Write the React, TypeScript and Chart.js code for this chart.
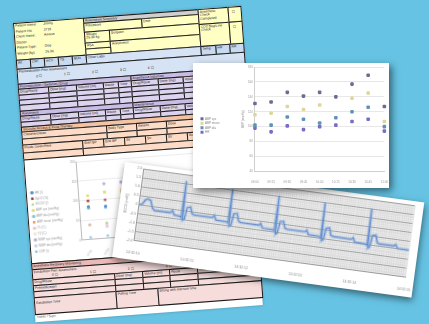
import React, { useEffect, useRef } from "react";
import { Chart, registerables } from "chart.js";

Chart.register(...registerables);
Chart.defaults.font.family = "'Liberation Sans', Arial, sans-serif";

// ---------- Trend card (top right) ----------
const trendLabels = ["09:00", "09:15", "09:30", "09:45", "10:00", "10:15", "10:30", "10:45", "11:00"];
const trendNames = ["ABP sys", "ABP mean", "ABP dia", "HR"];
const abpSys = [131, 133, 146, 141, 146, 140, 157, 169, 127];
const abpMean = [116, 118, 127, 123, 129, null, 138, 145, 107];
const abpDia = [102, 102, 113, 110, 105, 112, 120, 126, 100];
const heartRate = [98, 93, 101, 96, 100, 102, 107, 110, 94];

// ---------- ECG strip ----------
const ecgTime = [
  0.0, 0.05, 0.1, 0.15, 0.2, 0.25, 0.29, 0.58, 0.62, 0.66, 0.77, 0.79, 0.8, 0.82, 0.85, 0.88, 0.94, 0.98, 1.02,
  1.36, 1.39, 1.43, 1.63, 1.65, 1.66, 1.68, 1.71, 1.74, 1.8, 1.84, 1.88,
  2.22, 2.25, 2.29, 2.49, 2.51, 2.52, 2.54, 2.57, 2.6, 2.66, 2.7, 2.74,
  3.07, 3.1, 3.14, 3.34, 3.36, 3.37, 3.39, 3.42, 3.45, 3.51, 3.55, 3.59,
  3.93, 3.96, 4.0, 4.2, 4.22, 4.23, 4.25, 4.28, 4.31, 4.37, 4.41, 4.45,
  4.72, 4.75, 4.79, 5.0,
];
const ecgMv = [
  0.0, 0.05, 0.3, 0.38, 0.32, -0.1, -0.2, -0.2, -0.08, -0.3, -0.33, -0.4, 1.64, -0.52, -0.45, 0.2, 0.25, -0.1, -0.15,
  -0.15, -0.04, -0.27, -0.29, -0.35, 1.54, -0.5, -0.45, 0.2, 0.24, -0.15, -0.22,
  -0.23, -0.12, -0.36, -0.38, -0.43, 1.53, -0.6, -0.52, 0.12, 0.16, -0.2, -0.25,
  -0.25, -0.15, -0.38, -0.4, -0.46, 1.51, -0.62, -0.55, 0.1, 0.14, -0.25, -0.3,
  -0.32, -0.22, -0.45, -0.47, -0.52, 1.49, -0.68, -0.6, 0.05, 0.08, -0.32, -0.37,
  -0.37, -0.28, -0.47, -0.49,
];
const ecgTickLabels = ["14:32:10", "14:32:11", "14:32:12", "14:32:13", "14:32:14", "14:32:15"];

// ---------- Record-sheet vitals chart ----------
const sheetLabels = ["10:00", "10:05", "10:10", "10:15", "10:20", "10:25", "10:30", "10:35", "10:40", "10:45"];
const sheetNames = [
  "HR (/)", "SpO2 (%)", "EtCO2 (/)", "ABP sys (mmHg)", "ABP dia (mmHg)", "ABP mean (mmHg)",
  "T1 (C)", "T2 (C)", "NIBP sys (mmHg)", "NIBP dia (mmHg)", "CVP (/)",
];
const sheetHR = [84, 82, 85, 83, 86, 84, 82, 85, 83, 84];
const sheetSpO2 = [99, 98, 99, 99, 98, 99, 98, 99, 99, 98];
const sheetEtCO2 = [38, 40, 39, 41, 40, 38, 39, 40, 41, 39];
const sheetAbpSys = [112, 118, 116, 120, 117, 119, 121, 118, 116, 119];
const sheetAbpDia = [80, 79, 82, 81, 83, 80, 82, 81, 79, 80];
const sheetAbpMean = [97, 118, 120, 117, 99, 101, 118, 100, 98, 117];
const sheetT1 = [37.8, 37.6, 37.5, 37.4, 37.4, 37.3, 37.2, 37.2, 37.1, 37.0];
const sheetT2 = [36.9, 36.8, 36.8, 36.7, 36.6, 36.6, 36.5, 36.5, 36.4, 36.4];
const sheetNibpSys = [null, 139, 140, 138, 141, 137, 139, 140, 138, 136];
const sheetNibpDia = [null, 31, 62, 64, 61, 63, 60, 62, 61, 63];
const sheetCvp = [6, 7, 6, 8, 7, 6, 7, 8, 7, 6];

// ---------- form layout (illustration of the sheet) ----------
const Y = "#ffffc4", B = "#c7daf0", LB = "#d6e3f4", P = "#dcd3ee", PH = "#c9bde6",
  O = "#fcdcc6", OH = "#f3c3a4", K = "#f6dddc", KH = "#ebbab6", G = "#cfcfcf", W = "#ffffff";

type Cell = [number, number, number, number, string, string];
const FORM: Cell[] = [
  [0, 0, 70, 37, Y, ""],
  [70, 0, 115, 5, G, "Anesthesia Summary"],
  [70, 5, 58, 9, Y, "Procedure"],
  [128, 5, 57, 9, Y, "Date"],
  [70, 14, 25, 11, Y, "Weight\n25.36 kg"],
  [95, 14, 90, 11, Y, "Surgeon"],
  [70, 25, 25, 6, Y, "ASA"],
  [95, 25, 90, 12, Y, "Anesthetist"],
  [70, 31, 25, 6, Y, ""],
  [185, 0, 30, 15, Y, "Anesthetic\nCheck\nCompleted"],
  [215, 0, 13, 15, Y, "☐"],
  [185, 15, 30, 22, Y, "CO2 Bag/Line\nCheck"],
  [215, 15, 13, 22, Y, "☐"],
  [0, 37, 14, 9, B, "Wt"],
  [14, 37, 14, 9, B, "CRT"],
  [28, 37, 14, 9, B, "mCn"],
  [42, 37, 14, 9, B, "TS"],
  [56, 37, 14, 9, B, "BUN"],
  [70, 37, 115, 9, LB, "Other Labs"],
  [185, 37, 15, 9, B, "Temp"],
  [200, 37, 14, 9, B, "HR"],
  [214, 37, 14, 9, B, "RR"],
  [0, 46, 228, 15, LB, "Premedication Pain assessment"],
  [0, 61, 113, 5, PH, "Premedication / Sedation (Drug)"],
  [113, 61, 115, 5, PH, "Anesthesia Induction"],
  [0, 66, 30, 6, P, "Drug/Route"], [30, 66, 28, 6, P, "Dose (mg)"], [58, 66, 27, 6, P, "Volume (ml)"], [85, 66, 15, 6, P, "Route"], [100, 66, 13, 6, P, "Time"],
  [113, 66, 27, 6, P, "Drug/Route"], [140, 66, 25, 6, P, "Dose (mg)"], [165, 66, 25, 6, P, "Volume (ml)"], [190, 66, 20, 6, P, "Route"], [210, 66, 18, 6, P, "Time"],
  [0, 72, 30, 5, P, ""], [30, 72, 28, 5, P, ""], [58, 72, 27, 5, P, ""], [85, 72, 15, 5, P, ""], [100, 72, 13, 5, P, ""],
  [113, 72, 27, 5, P, ""], [140, 72, 25, 5, P, ""], [165, 72, 25, 5, P, ""], [190, 72, 20, 5, P, ""], [210, 72, 18, 5, P, ""],
  [0, 77, 30, 5, P, ""], [30, 77, 28, 5, P, ""], [58, 77, 27, 5, P, ""], [85, 77, 15, 5, P, ""], [100, 77, 13, 5, P, ""],
  [113, 77, 27, 5, P, ""], [140, 77, 25, 5, P, ""], [165, 77, 25, 5, P, ""], [190, 77, 20, 5, P, ""], [210, 77, 18, 5, P, ""],
  [0, 82, 30, 6, P, ""], [30, 82, 28, 6, P, ""], [58, 82, 27, 6, P, ""], [85, 82, 15, 6, P, ""], [100, 82, 13, 6, P, ""],
  [113, 82, 27, 6, P, ""], [140, 82, 25, 6, P, ""], [165, 82, 25, 6, P, ""], [190, 82, 20, 6, P, ""], [210, 82, 18, 6, P, ""],
  [0, 88, 113, 5, PH, "Anesthesia"],
  [113, 88, 115, 5, PH, "Maintenance"],
  [0, 93, 30, 6, P, "Drug/Route"], [30, 93, 28, 6, P, "Dose (mg)"], [58, 93, 27, 6, P, "Volume (ml)"], [85, 93, 15, 6, P, "Route"], [100, 93, 13, 6, P, "Time"],
  [113, 93, 27, 6, P, "Drug/Route"], [140, 93, 25, 6, P, "Dose (mg)"], [165, 93, 25, 6, P, "Volume (ml)"], [190, 93, 20, 6, P, "Route"], [210, 93, 18, 6, P, "Time"],
  [0, 99, 30, 5, P, ""], [30, 99, 28, 5, P, ""], [58, 99, 27, 5, P, ""], [85, 99, 15, 5, P, ""], [100, 99, 13, 5, P, ""],
  [113, 99, 27, 5, P, ""], [140, 99, 25, 5, P, ""], [165, 99, 25, 5, P, ""], [190, 99, 20, 5, P, ""], [210, 99, 18, 5, P, ""],
  [0, 104, 228, 5, OH, "Vascular Access & Fluid Therapy"],
  [0, 109, 85, 7, O, "Catheterization"], [85, 109, 30, 7, O, "Body Type"], [115, 109, 30, 7, O, "Rate/hr"], [145, 109, 30, 7, O, "Dose"], [175, 109, 53, 7, O, ""],
  [0, 116, 85, 6, O, ""], [85, 116, 30, 6, O, ""], [115, 116, 30, 6, O, ""], [145, 116, 30, 6, O, ""], [175, 116, 53, 6, O, ""],
  [0, 122, 60, 8, O, "Fluids Given/Rate"], [60, 122, 21, 8, O, "Start BP"], [81, 122, 21, 8, O, "End BP"], [102, 122, 21, 8, O, "Str"], [123, 122, 21, 8, O, "Str"], [144, 122, 21, 8, O, "Str"], [165, 122, 21, 8, O, "Str"], [186, 122, 21, 8, O, "Str"], [207, 122, 21, 8, O, ""],
  [0, 130, 60, 7, O, ""], [60, 130, 168, 7, O, ""],
  [0, 137, 228, 104, W, ""],
  [0, 241, 228, 6, KH, "Anesthetic Recovery Monitoring"],
  [0, 247, 228, 10, K, "Extubation Pain assessment"],
  [0, 257, 82, 6, K, "Drug/Route"], [82, 257, 28, 6, K, "Dose (mg)"], [110, 257, 27, 6, K, "Volume (ml)"], [137, 257, 28, 6, K, "Route"], [165, 257, 63, 6, K, "Time"],
  [0, 263, 82, 6, K, "Premedication"], [82, 263, 28, 6, K, ""], [110, 263, 27, 6, K, ""], [137, 263, 28, 6, K, ""], [165, 263, 63, 6, K, ""],
  [0, 269, 82, 6, K, ""], [82, 269, 28, 6, K, ""], [110, 269, 27, 6, K, ""], [137, 269, 28, 6, K, ""], [165, 269, 63, 6, K, ""],
  [0, 275, 82, 17, K, "\nExtubation Time"], [82, 275, 42, 17, K, "Pulling Time"], [124, 275, 104, 17, K, "Sitting with sternum time"],
];
const PATIENT_ROWS: [string, string][] = [
  ["Patient Name:", "Jimmy"], ["Patient No:", "2719"], ["Client Name:", "Amana"],
  ["Doctor:", ""], ["Patient Type:", "Dog"], ["Weight (kg):", "25.36"],
];

const plotBg = {
  id: "plotBg",
  beforeDraw(chart: any, _args: any, opts: any) {
    if (!opts || !opts.color) return;
    const { ctx, chartArea: a } = chart;
    ctx.save();
    ctx.fillStyle = opts.color;
    ctx.fillRect(a.left, a.top, a.right - a.left, a.bottom - a.top);
    ctx.restore();
  },
};

function ChartCanvas({ width, height, make }: { width: number; height: number; make: () => any }) {
  const ref = useRef<HTMLCanvasElement>(null);
  useEffect(() => {
    const chart = new Chart(ref.current as HTMLCanvasElement, make());
    return () => chart.destroy();
  }, []);
  return <canvas ref={ref} width={width} height={height} style={{ display: "block", width, height }} />;
}

function trendConfig() {
  const mk = (label: string, data: any[], color: string) => ({
    label, data, showLine: false, pointRadius: 2.1, pointStyle: "rectRounded",
    backgroundColor: color, borderColor: color, borderWidth: 0,
  });
  return {
    type: "line",
    data: {
      labels: trendLabels,
      datasets: [
        mk(trendNames[0], abpSys, "#6c6c92"),
        mk(trendNames[1], abpMean, "#dcd79c"),
        mk(trendNames[2], abpDia, "#5f93b6"),
        mk(trendNames[3], heartRate, "#7a6cc6"),
      ],
    },
    options: {
      animation: false, responsive: false, events: [],
      layout: { padding: { left: 6, right: 4, top: 3, bottom: 3 } },
      plugins: {
        legend: { position: "left", labels: { boxWidth: 3, boxHeight: 3, font: { size: 3 }, padding: 1.5, color: "#888" } },
        tooltip: { enabled: false },
      },
      scales: {
        x: { grid: { display: false }, border: { color: "#cfcfcf" }, ticks: { font: { size: 3 }, color: "#999", maxRotation: 0, padding: 1 } },
        y: {
          min: 40, max: 180,
          ticks: { stepSize: 20, font: { size: 3 }, color: "#999", padding: 2 },
          grid: { color: "#e8e8e8", drawTicks: false },
          border: { color: "#cfcfcf" },
          title: { display: true, text: "ABP (mmHg)", font: { size: 3 }, color: "#999", padding: { top: 12, bottom: 1 } },
        },
      },
    },
  };
}

function ecgConfig() {
  const pts = ecgTime.map((t, i) => ({ x: t, y: ecgMv[i] }));
  const minorTicks = (from: number, to: number, step: number) => (s: any) => {
    const t: any[] = [];
    const n = Math.round((to - from) / step);
    for (let i = 0; i <= n; i++) t.push({ value: from + i * step });
    s.ticks = t;
  };
  return {
    type: "line",
    data: {
      datasets: [
        { data: pts, borderColor: "rgba(120,165,230,0.35)", borderWidth: 3.5, pointRadius: 0, tension: 0 },
        { data: pts, borderColor: "#5a80bd", borderWidth: 1.1, pointRadius: 0, tension: 0 },
      ],
    },
    plugins: [plotBg],
    options: {
      animation: false, responsive: false, events: [],
      layout: { padding: { left: 3, right: 9, top: 4, bottom: 3 } },
      plugins: { legend: { display: false }, tooltip: { enabled: false }, plotBg: { color: "#ededed" } },
      scales: {
        xMinor: {
          type: "linear", axis: "x", position: "bottom", min: 0, max: 5, z: -1,
          afterBuildTicks: minorTicks(0, 5, 0.04),
          ticks: { display: false }, grid: { color: "#d6d6d6", drawTicks: false, lineWidth: 0.6 }, border: { display: false },
        },
        yMinor: {
          type: "linear", axis: "y", position: "left", min: -2, max: 2, z: -1,
          afterBuildTicks: minorTicks(-2, 2, 0.1),
          ticks: { display: false }, grid: { color: "#d6d6d6", drawTicks: false, lineWidth: 0.6 }, border: { display: false },
        },
        x: {
          type: "linear", min: 0, max: 5,
          ticks: { stepSize: 1, font: { size: 3.5 }, color: "#888", maxRotation: 0, padding: 2, callback: (_v: any, i: number) => ecgTickLabels[i] },
          grid: { display: false }, border: { color: "#9a9a9a" },
        },
        y: {
          type: "linear", min: -2, max: 2,
          ticks: { stepSize: 0.5, font: { size: 3.5 }, color: "#888", padding: 2 },
          grid: { color: "#a3a3a3", drawTicks: false, lineWidth: 1 },
          border: { color: "#9a9a9a" },
          title: { display: true, text: "ECG (mV)", font: { size: 4 }, color: "#777", padding: { top: 1, bottom: 1 } },
        },
      },
    },
  };
}

function sheetConfig() {
  const mk = (i: number, data: any[], color: string, style: string) => ({
    label: sheetNames[i], data, showLine: false, pointRadius: 1.6, pointStyle: style,
    backgroundColor: color, borderColor: color, borderWidth: 0,
  });
  return {
    type: "line",
    data: {
      labels: sheetLabels,
      datasets: [
        mk(0, sheetHR, "#5b8fd0", "circle"),
        mk(1, sheetSpO2, "#a33a3a", "rect"),
        mk(2, sheetEtCO2, "#a9cf7a", "triangle"),
        mk(3, sheetAbpSys, "#e8e07a", "circle"),
        mk(4, sheetAbpDia, "#7fcad8", "circle"),
        mk(5, sheetAbpMean, "#f0a050", "rect"),
        mk(6, sheetT1, "#f3c6cf", "circle"),
        mk(7, sheetT2, "#efe7d6", "circle"),
        mk(8, sheetNibpSys, "#b9b0d8", "circle"),
        mk(9, sheetNibpDia, "#d4cdea", "circle"),
        mk(10, sheetCvp, "#8fc6e6", "rect"),
      ],
    },
    options: {
      animation: false, responsive: false, events: [],
      layout: { padding: { left: 1, right: 4, top: 5, bottom: 1 } },
      plugins: {
        legend: {
          position: "left",
          title: { display: true, text: " ", font: { size: 3 }, padding: { top: 0, bottom: 14 } },
          labels: { boxWidth: 2.5, boxHeight: 2.5, usePointStyle: true, font: { size: 3 }, padding: 2.9, color: "#999" },
        },
        tooltip: { enabled: false },
      },
      scales: {
        x: {
          offset: true, grid: { display: false }, border: { color: "#bbb" },
          ticks: { font: { size: 3 }, color: "#aaa", minRotation: 50, maxRotation: 50, padding: 1 },
        },
        y: {
          min: 0, max: 200,
          ticks: { stepSize: 50, font: { size: 3 }, color: "#999", padding: 1.5 },
          grid: { color: "#ececec", drawTicks: false }, border: { color: "#bbb" },
        },
      },
    },
  };
}

const txt: React.CSSProperties = {
  position: "absolute", fontSize: "3.4px", lineHeight: "3.6px", color: "#222",
  fontFamily: "'Liberation Sans', Arial, sans-serif", whiteSpace: "pre",
};

function FormSheet() {
  return (
    <div
      style={{
        position: "absolute", left: 13, top: 23, width: 228, height: 300, background: "#fff",
        transform: "rotate(-4.3deg)", transformOrigin: "0 0", boxShadow: "0 0 3px rgba(0,0,0,0.25)",
      }}
    >
      {FORM.map(([x, y, w, h, bg, label], i) => (
        <div
          key={i}
          style={{
            position: "absolute", left: x, top: y, width: w + 0.8, height: h + 0.8, boxSizing: "border-box",
            background: bg, border: "0.8px solid #1a1a1a", overflow: "hidden",
          }}
        >
          {label ? (
            <div style={{ ...txt, left: label === "☐" ? 3 : 1, top: label === "☐" ? 3 : 0.5, textAlign: "left" }}>{label}</div>
          ) : null}
        </div>
      ))}
      {PATIENT_ROWS.map(([k, v], i) => (
        <React.Fragment key={"p" + i}>
          <div style={{ ...txt, left: 2, top: 2 + i * 5.6 }}>{k}</div>
          <div style={{ ...txt, left: 30, top: 2 + i * 5.6 }}>{v}</div>
        </React.Fragment>
      ))}
      {["0 ☐", "1 ☐", "2 ☐", "3 ☐", "4 ☐"].map((s, i) => (
        <div key={"c" + i} style={{ ...txt, left: 19 + i * 28, top: 54 - 0 }}>{s}</div>
      ))}
      {["0 ☐", "1 ☐", "2 ☐", "3 ☐", "4 ☐"].map((s, i) => (
        <div key={"d" + i} style={{ ...txt, left: 20 + i * 38, top: 252.5 }}>{s}</div>
      ))}
      <div style={{ position: "absolute", left: 0.5, top: 137.5 }}>
        <ChartCanvas width={227} height={103} make={sheetConfig} />
      </div>
      <div style={{ ...txt, left: 2, top: 294, color: "#555" }}>{"Notes / Sign:"}</div>
    </div>
  );
}

export default function App() {
  useEffect(() => {
    document.body.style.margin = "0";
  }, []);
  return (
    <div style={{ position: "absolute", left: 0, top: 0, width: 429, height: 324, overflow: "hidden", background: "#66c3e3" }}>
      <FormSheet />
      <div
        style={{
          position: "absolute", left: 125, top: 162, width: 302, height: 96, background: "#fff",
          transform: "rotate(7.7deg)", transformOrigin: "0 0", boxShadow: "1px 3px 7px rgba(0,0,0,0.5)",
        }}
      >
        <ChartCanvas width={302} height={96} make={ecgConfig} />
      </div>
      <div
        style={{
          position: "absolute", left: 193, top: 63, width: 196, height: 125, background: "#fff",
          boxShadow: "3px 3px 7px rgba(0,0,0,0.5)",
        }}
      >
        <ChartCanvas width={196} height={125} make={trendConfig} />
      </div>
    </div>
  );
}
